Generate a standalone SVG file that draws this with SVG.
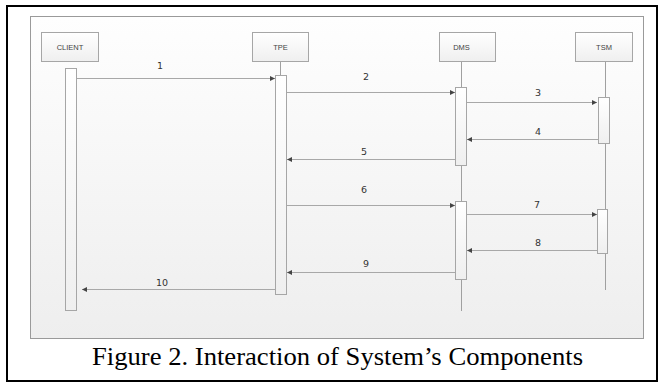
<svg xmlns="http://www.w3.org/2000/svg" width="662" height="383" viewBox="0 0 662 383">
<defs>
<linearGradient id="panel" x1="0" y1="0" x2="0" y2="1">
<stop offset="0" stop-color="#fefefe"/>
<stop offset="1" stop-color="#eeeeee"/>
</linearGradient>
<linearGradient id="box" x1="0" y1="0" x2="0" y2="1">
<stop offset="0" stop-color="#ffffff"/>
<stop offset="1" stop-color="#efefef"/>
</linearGradient>
<marker id="ah" viewBox="0 0 6 6" refX="6" refY="3" markerWidth="5" markerHeight="5" markerUnits="userSpaceOnUse" orient="auto">
<path d="M0,0 L6,3 L0,6 z" fill="#444"/>
</marker>
<style>
.actor rect{fill:url(#box);stroke:#a6a6a6;stroke-width:1}
.actor text{font-family:"Liberation Sans",Arial,sans-serif;font-size:7.5px;fill:#444;text-anchor:middle}
.life{stroke:#a0a0a0;stroke-width:1;fill:none}
.act{fill:#ffffff;stroke:#a0a0a0;stroke-width:1}
.msg line{stroke:#a8a8a8;stroke-width:1;marker-end:url(#ah)}
.msg text{font-family:"DejaVu Sans",sans-serif;font-size:9.5px;fill:#333;text-anchor:middle}
</style>
</defs>
<rect x="0" y="0" width="662" height="383" fill="#ffffff"/>
<rect x="7" y="6" width="650" height="375" fill="#ffffff" stroke="#000" stroke-width="2"/>
<rect x="30.5" y="16.5" width="613" height="322" fill="url(#panel)" stroke="#9a9a9a" stroke-width="1"/>

<g id="client" class="actor">
<rect x="41.5" y="32.5" width="57" height="29"/>
<text x="70" y="49.5">CLIENT</text>
<rect class="act" x="65.5" y="68.5" width="11" height="242"/>
</g>
<g id="tpe" class="actor">
<rect x="252.5" y="32.5" width="56" height="29"/>
<text x="280.5" y="49.5">TPE</text>
<line class="life" x1="280.5" y1="62" x2="280.5" y2="76"/>
<rect class="act" x="275.5" y="75.5" width="11" height="219"/>
</g>
<g id="dms" class="actor">
<rect x="439.5" y="32.5" width="56" height="29"/>
<text x="461.5" y="49.5">DMS</text>
<line class="life" x1="461.5" y1="62" x2="461.5" y2="311"/>
<rect class="act" x="455.5" y="87.5" width="11" height="78"/>
<rect class="act" x="455.5" y="201.5" width="11" height="78"/>
</g>
<g id="tsm" class="actor">
<rect x="575.5" y="32.5" width="57" height="29"/>
<text x="604" y="49.5">TSM</text>
<line class="life" x1="605.5" y1="62" x2="605.5" y2="290"/>
<rect class="act" x="598.5" y="97.5" width="11" height="46"/>
<rect class="act" x="597.5" y="209.5" width="10" height="44"/>
</g>

<g id="connectors" class="msg">
<line x1="77" y1="78.5" x2="275" y2="78.5"/>
<text x="160" y="69">1</text>
<line x1="287" y1="92.5" x2="455" y2="92.5"/>
<text x="366" y="80">2</text>
<line x1="467" y1="102.5" x2="597" y2="102.5"/>
<text x="538" y="96">3</text>
<line x1="598" y1="139.5" x2="467" y2="139.5"/>
<text x="538" y="135">4</text>
<line x1="455" y1="159.5" x2="287" y2="159.5"/>
<text x="364" y="155">5</text>
<line x1="287" y1="205.5" x2="455" y2="205.5"/>
<text x="364" y="193">6</text>
<line x1="467" y1="214.5" x2="597" y2="214.5"/>
<text x="537" y="208">7</text>
<line x1="597" y1="250.5" x2="467" y2="250.5"/>
<text x="538" y="246">8</text>
<line x1="455" y1="272.5" x2="287" y2="272.5"/>
<text x="366" y="267">9</text>
<line x1="275" y1="289.5" x2="82" y2="289.5"/>
<text x="162" y="286">10</text>
</g>

<text x="92" y="365" font-family="'Liberation Serif','Times New Roman',serif" font-size="26" fill="#000" textLength="491" lengthAdjust="spacingAndGlyphs">Figure 2. Interaction of System’s Components</text>
</svg>
